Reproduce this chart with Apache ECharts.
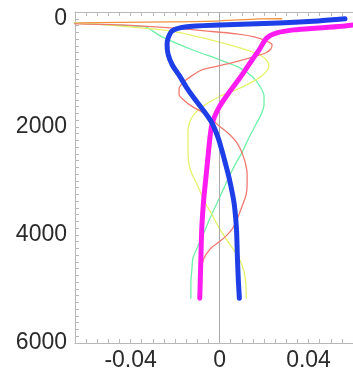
<!DOCTYPE html>
<html>
<head>
<meta charset="utf-8">
<script src="https://cdn.jsdelivr.net/npm/echarts@6/dist/echarts.min.js"></script>
<style>html,body{margin:0;padding:0;background:#fff;}#chart{width:353px;height:372px;}</style>
</head>
<body>
<div id="chart"></div>
<script>
// profiles: value vs depth (depth downwards)
var blueVal = [0.0564, 0.0444, 0.0267, 0, -0.0156, -0.0213, -0.0231, -0.0236, -0.0231, -0.0213, -0.0178, -0.0151, -0.012, -0.0076, -0.0036, -0.0009, 0.0009, 0.0027, 0.0044, 0.0058, 0.0067, 0.0076, 0.008, 0.0084, 0.0089];
var blueDep = [0, 40, 77, 114, 151, 224, 353, 482, 666, 850, 1070, 1254, 1438, 1677, 1916, 2173, 2413, 2689, 2965, 3240, 3461, 3884, 4381, 4804, 5172];
var magVal  = [0.0644, 0.0564, 0.0444, 0.0333, 0.0258, 0.0213, 0.0178, 0.0147, 0.0111, 0.0076, 0.0036, 0, -0.0022, -0.0036, -0.0044, -0.0053, -0.0062, -0.0071, -0.008, -0.0084, -0.0089];
var magDep  = [96, 132, 169, 206, 261, 353, 574, 758, 978, 1181, 1401, 1622, 1806, 1990, 2229, 2597, 2965, 3332, 3884, 4436, 5172];
var redVal  = [-0.0676, -0.0636, -0.0444, -0.0222, -0.0067, 0.0076, 0.0156, 0.0209, 0.0236, 0.0231, 0.0209, 0.0156, 0.0076, 0, -0.0076, -0.0124, -0.0164, -0.0182, -0.0182, -0.0164, -0.0124, -0.0076, -0.0036, 0, 0.0044, 0.0076, 0.0098, 0.0111, 0.012, 0.0124, 0.0124, 0.012, 0.0102, 0.008, 0.0058, 0.0031, 0, -0.0036, -0.0058, -0.0071, -0.0076];
var redDep  = [77, 96, 114, 169, 224, 280, 335, 408, 482, 555, 629, 702, 794, 868, 942, 1052, 1181, 1291, 1401, 1493, 1622, 1732, 1861, 1990, 2137, 2284, 2450, 2597, 2744, 2873, 3001, 3240, 3461, 3700, 3884, 4013, 4123, 4234, 4344, 4436, 4509];
var yelVal  = [-0.0676, -0.0578, -0.0458, -0.0356, -0.0222, -0.0076, 0.0044, 0.0133, 0.0187, 0.0213, 0.0222, 0.0213, 0.0187, 0.0133, 0.0067, 0, -0.0076, -0.0111, -0.0133, -0.0142, -0.0142, -0.0138, -0.0124, -0.0102, -0.0067, -0.0036, 0, 0.0044, 0.008, 0.0102, 0.0116, 0.012];
var yelDep  = [77, 96, 132, 169, 224, 353, 482, 592, 684, 776, 868, 960, 1070, 1199, 1328, 1438, 1622, 1751, 1898, 2100, 2413, 2689, 2873, 3057, 3387, 3608, 3884, 4160, 4381, 4565, 4804, 5172];
var grnVal  = [-0.0676, -0.0489, -0.0333, -0.0302, -0.0267, -0.0209, -0.0111, 0, 0.0089, 0.0147, 0.0182, 0.02, 0.02, 0.0187, 0.0164, 0.0133, 0.0102, 0.0071, 0.0044, 0.0018, -0.0013, -0.0044, -0.0076, -0.0102, -0.012, -0.0124, -0.0129, -0.0129];
var grnDep  = [77, 114, 151, 224, 316, 427, 592, 758, 905, 1070, 1254, 1438, 1585, 1769, 1953, 2192, 2468, 2689, 2910, 3148, 3424, 3700, 4013, 4252, 4436, 4620, 4896, 5172];
var orgVal  = [-0.0676, -0.0444, -0.0222, 0, 0.0178, 0.028];
var orgDep  = [77, 68, 59, 40, 4, 0];
var xLabels = [-0.04, 0, 0.04];
var yLabels = [0, 2000, 4000, 6000];

function pairs(v, d){ var out=[]; for(var i=0;i<v.length;i++){ out.push([v[i], d[i]]); } return out; }

var chart = echarts.init(document.getElementById('chart'));
var lbl = {fontFamily:'Liberation Sans', fontSize:23, color:'#2a2a2a'};
var axLine = {show:true, onZero:false, lineStyle:{color:'#b8b8b8', width:1}};
var tick = {show:true, inside:true, length:4, lineStyle:{color:'#b8b8b8'}};
function xFmt(v){ var r=Math.round(v*1000)/1000; for(var i=0;i<xLabels.length;i++){ if(Math.abs(r-xLabels[i])<1e-6) return String(xLabels[i]); } return ''; }
function yFmt(v){ var r=Math.round(v); return yLabels.indexOf(r)>=0 ? String(r) : ''; }
function line(data, color, w, z){
	return {type:'line', data:data, smooth:0.3, showSymbol:false, symbol:'none', z:z, lineStyle:{color:color, width:w, cap:'round', join:'round'}, itemStyle:{color:color}, animation:false};
}
var series = [
	line(pairs(orgVal, orgDep), '#f09040', 1.3, 2),
	line(pairs(grnVal, grnDep), '#6ff0a8', 1.3, 3),
	line(pairs(yelVal, yelDep), '#e4f26a', 1.3, 4),
	line(pairs(redVal, redDep), '#f07a70', 1.3, 5),
	line(pairs(magVal, magDep), '#ff1cf0', 5, 6),
	line(pairs(blueVal, blueDep), '#1e3ee8', 5, 7)
];
series[0].markLine = {silent:true, symbol:'none', label:{show:false}, lineStyle:{color:'#aaaaaa', width:1, type:'solid'}, data:[{xAxis:0}]};

chart.setOption({
	backgroundColor:'#fff',
	animation:false,
	grid:{left:75, top:12, width:281, height:333, containLabel:false},
	xAxis:[
		{type:'value', position:'bottom', min:-0.065, max:0.06, interval:0.005, axisLine:axLine, axisTick:tick, splitLine:{show:false},
		 axisLabel:Object.assign({margin:6, formatter:xFmt, showMinLabel:true, showMaxLabel:false}, lbl)},
		{type:'value', position:'top', min:-0.065, max:0.06, interval:0.005, axisLine:axLine, axisTick:tick, splitLine:{show:false}, axisLabel:{show:false}}
	],
	yAxis:{type:'value', inverse:true, min:-125, max:6000, interval:125, axisLine:axLine, axisTick:tick, splitLine:{show:false},
		axisLabel:Object.assign({margin:8, formatter:yFmt}, lbl)},
	series:series
});
</script>
</body>
</html>
